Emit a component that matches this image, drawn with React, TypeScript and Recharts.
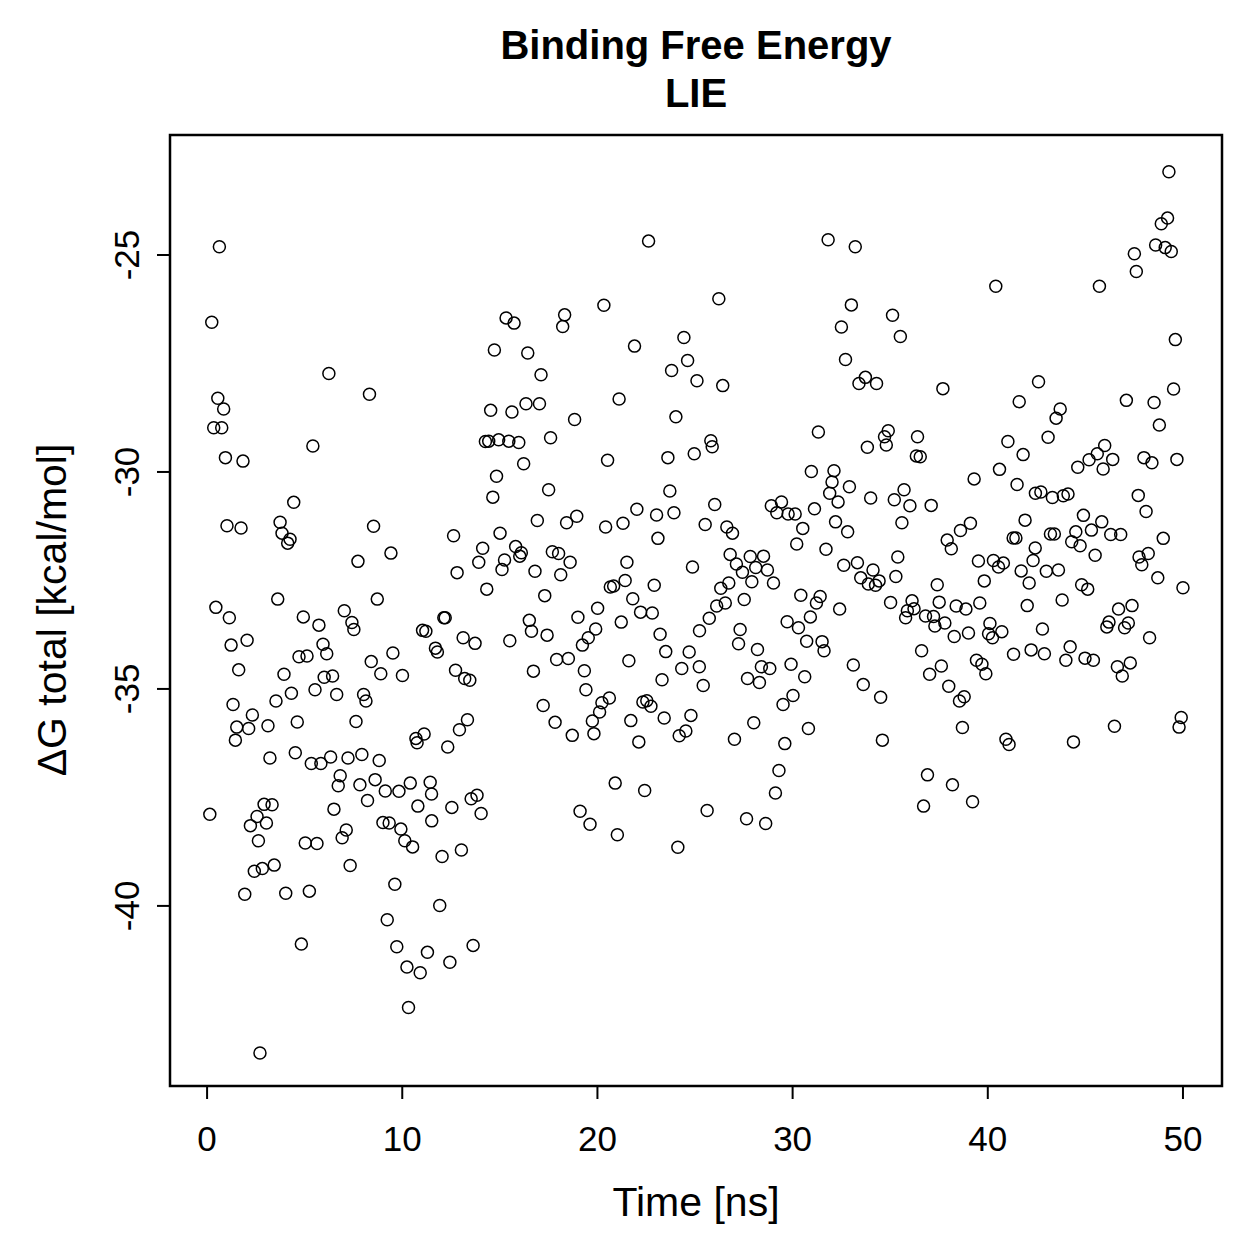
import React from "react";
import { ScatterChart, Scatter, XAxis, YAxis, ReferenceArea } from "recharts";

// Time [ns] / ΔG total [kcal/mol] pairs, grouped by decade
const seg00to10: [number, number][] = [
  [0.14, -37.89], [0.24, -26.55], [0.34, -28.98], [0.45, -33.12], [0.55, -28.3], [0.63, -24.81], [0.75, -28.98], [0.85, -28.55], [0.94, -29.67],
  [1.02, -31.24], [1.14, -33.36], [1.23, -33.99], [1.33, -35.36], [1.45, -36.18], [1.52, -35.88], [1.62, -34.56], [1.74, -31.29], [1.84, -29.75], [1.93, -39.73],
  [2.05, -33.88], [2.13, -35.91], [2.22, -38.15], [2.32, -35.6], [2.42, -39.2], [2.56, -37.94], [2.63, -38.5], [2.71, -43.39], [2.83, -39.14], [2.92, -37.66],
  [3.04, -38.09], [3.12, -35.85], [3.22, -36.59], [3.33, -37.67], [3.44, -39.06], [3.53, -35.28], [3.62, -32.93], [3.74, -31.16], [3.84, -31.41], [3.94, -34.66],
  [4.03, -39.71], [4.13, -31.64], [4.25, -31.55], [4.32, -35.1], [4.44, -30.7], [4.52, -36.47], [4.62, -35.76], [4.71, -34.26], [4.83, -40.88], [4.93, -33.34],
  [5.03, -38.55], [5.12, -34.24], [5.24, -39.66], [5.34, -36.72], [5.42, -29.4], [5.53, -35.02], [5.63, -38.56], [5.73, -33.53], [5.83, -36.72], [5.94, -33.97],
  [6.0, -34.73], [6.13, -34.19], [6.24, -27.73], [6.33, -36.57], [6.43, -34.7], [6.5, -37.77], [6.64, -35.13], [6.72, -37.23], [6.82, -37.0], [6.92, -38.43],
  [7.03, -33.2], [7.13, -38.25], [7.22, -36.59], [7.33, -39.07], [7.42, -33.47], [7.52, -33.63], [7.63, -35.75], [7.73, -32.06], [7.83, -37.21], [7.93, -36.51],
  [8.02, -35.13], [8.14, -35.28], [8.22, -37.57], [8.32, -28.21], [8.41, -34.37], [8.53, -31.25], [8.61, -37.09], [8.72, -32.93], [8.82, -36.65], [8.9, -34.65],
  [9.01, -38.08], [9.13, -37.35], [9.23, -40.32], [9.33, -38.09], [9.42, -31.87], [9.52, -34.17], [9.62, -39.5], [9.72, -40.94], [9.83, -37.36], [9.93, -38.23],
];

const seg10to20: [number, number][] = [
  [10.01, -34.69], [10.13, -38.5], [10.24, -41.41], [10.32, -42.34], [10.41, -37.17], [10.53, -38.64], [10.7, -36.14], [10.76, -36.24], [10.8, -37.7], [10.92, -41.54],
  [11.04, -33.65], [11.12, -36.04], [11.21, -33.67], [11.29, -41.07], [11.43, -37.15], [11.5, -37.42], [11.51, -38.04], [11.7, -34.06], [11.8, -34.15], [11.92, -39.99],
  [12.04, -38.86], [12.13, -33.36], [12.2, -33.36], [12.33, -36.34], [12.44, -41.3], [12.54, -37.73], [12.63, -31.47], [12.73, -34.57], [12.81, -32.32], [12.93, -35.94],
  [13.03, -38.71], [13.12, -33.82], [13.2, -34.76], [13.34, -35.71], [13.46, -34.8], [13.53, -37.53], [13.63, -40.91], [13.73, -33.95], [13.83, -37.45], [13.92, -32.08],
  [14.04, -37.87], [14.12, -31.76], [14.26, -29.3], [14.33, -32.7], [14.43, -29.29], [14.53, -28.58], [14.64, -30.58], [14.72, -27.19], [14.83, -30.1], [14.94, -29.26],
  [15.01, -31.41], [15.11, -32.25], [15.24, -32.03], [15.32, -26.45], [15.46, -29.29], [15.51, -33.89], [15.62, -28.62], [15.73, -26.57], [15.81, -31.72], [15.97, -29.32],
  [16.02, -31.94], [16.1, -31.86], [16.22, -29.81], [16.34, -28.43], [16.43, -27.26], [16.51, -33.42], [16.62, -33.67], [16.72, -34.59], [16.8, -32.29], [16.92, -31.12],
  [17.03, -28.43], [17.11, -27.76], [17.22, -35.38], [17.3, -32.85], [17.42, -33.76], [17.5, -30.41], [17.6, -29.21], [17.69, -31.84], [17.83, -35.77], [17.91, -34.32],
  [18.01, -31.88], [18.12, -32.37], [18.22, -26.65], [18.32, -26.38], [18.42, -31.17], [18.51, -34.3], [18.6, -32.08], [18.71, -36.07], [18.83, -28.79], [18.94, -31.02],
  [19.0, -33.35], [19.11, -37.82], [19.23, -33.99], [19.33, -34.58], [19.41, -35.02], [19.53, -33.82], [19.62, -38.12], [19.74, -35.74], [19.82, -36.03], [19.91, -33.62],
];

const seg20to30: [number, number][] = [
  [20.01, -33.14], [20.11, -35.53], [20.23, -35.32], [20.33, -26.16], [20.42, -31.27], [20.52, -29.73], [20.61, -35.21], [20.66, -32.65], [20.83, -32.63], [20.91, -37.17],
  [21.02, -38.36], [21.11, -28.32], [21.22, -33.46], [21.31, -31.18], [21.42, -32.5], [21.51, -32.08], [21.61, -34.35], [21.71, -35.73], [21.81, -32.92], [21.9, -27.1],
  [22.02, -30.86], [22.12, -36.22], [22.21, -33.23], [22.33, -35.3], [22.42, -37.34], [22.53, -35.27], [22.62, -24.68], [22.74, -35.4], [22.81, -33.25], [22.91, -32.61],
  [23.03, -30.99], [23.1, -31.53], [23.21, -33.74], [23.31, -34.79], [23.42, -35.67], [23.5, -34.14], [23.61, -29.67], [23.71, -30.44], [23.8, -27.66], [23.92, -30.94],
  [24.02, -28.73], [24.12, -38.65], [24.19, -36.08], [24.32, -34.53], [24.43, -26.9], [24.53, -35.97], [24.62, -27.43], [24.7, -34.15], [24.79, -35.61], [24.87, -32.19],
  [24.96, -29.58], [25.1, -27.9], [25.22, -34.49], [25.23, -33.66], [25.42, -34.92], [25.52, -31.21], [25.62, -37.8], [25.73, -33.37], [25.81, -29.28], [25.88, -29.42],
  [26.01, -30.75], [26.11, -33.09], [26.22, -26.01], [26.32, -32.68], [26.42, -28.01], [26.55, -33.02], [26.63, -31.27], [26.73, -32.56], [26.8, -31.9], [26.92, -31.41],
  [27.02, -36.16], [27.12, -32.12], [27.23, -33.96], [27.31, -33.63], [27.43, -32.31], [27.52, -32.94], [27.64, -37.99], [27.69, -34.76], [27.83, -31.95], [27.91, -32.53],
  [28.01, -35.78], [28.11, -32.2], [28.2, -34.09], [28.3, -34.85], [28.4, -34.49], [28.51, -31.94], [28.62, -38.1], [28.71, -32.26], [28.83, -34.53], [28.91, -30.78],
  [29.02, -32.56], [29.12, -37.4], [29.19, -30.94], [29.3, -36.88], [29.43, -30.69], [29.51, -35.36], [29.6, -36.26], [29.72, -33.45], [29.77, -30.97], [29.92, -34.43],
];

const seg30to40: [number, number][] = [
  [30.02, -35.15], [30.13, -30.97], [30.21, -31.66], [30.3, -33.59], [30.42, -32.84], [30.52, -31.3], [30.62, -34.72], [30.72, -33.9], [30.81, -35.91], [30.91, -33.34],
  [30.96, -29.99], [31.12, -30.85], [31.22, -33.02], [31.32, -29.08], [31.41, -32.87], [31.51, -33.91], [31.61, -34.12], [31.71, -31.78], [31.82, -24.65], [31.9, -30.49],
  [32.02, -30.23], [32.12, -29.97], [32.2, -31.15], [32.33, -30.69], [32.41, -33.16], [32.5, -26.66], [32.62, -32.15], [32.71, -27.41], [32.82, -31.38], [32.91, -30.34],
  [33.01, -26.15], [33.11, -34.45], [33.21, -24.81], [33.32, -32.09], [33.4, -27.96], [33.49, -32.44], [33.62, -34.9], [33.73, -27.82], [33.83, -29.43], [33.88, -32.58],
  [34.0, -30.6], [34.12, -32.26], [34.25, -32.61], [34.3, -27.96], [34.43, -32.51], [34.51, -35.19], [34.6, -36.18], [34.71, -29.19], [34.8, -29.38], [34.9, -29.05],
  [35.02, -33.01], [35.12, -26.39], [35.21, -30.64], [35.29, -32.41], [35.39, -31.96], [35.52, -26.88], [35.6, -31.17], [35.71, -30.41], [35.79, -33.36], [35.88, -33.2],
  [36.01, -30.78], [36.12, -32.97], [36.22, -33.15], [36.34, -29.63], [36.4, -29.19], [36.54, -29.65], [36.61, -34.12], [36.71, -37.7], [36.81, -33.32], [36.91, -36.98],
  [37.02, -34.66], [37.1, -30.77], [37.22, -33.33], [37.29, -33.55], [37.41, -32.6], [37.51, -33.0], [37.62, -34.47], [37.7, -28.08], [37.8, -33.48], [37.92, -31.57],
  [38.0, -34.94], [38.13, -31.77], [38.19, -37.21], [38.28, -33.79], [38.38, -33.09], [38.55, -35.28], [38.6, -31.35], [38.7, -35.89], [38.79, -35.18], [38.88, -33.16],
  [39.01, -33.71], [39.11, -31.18], [39.22, -37.6], [39.3, -30.16], [39.42, -34.34], [39.52, -32.05], [39.59, -33.02], [39.7, -34.43], [39.82, -32.51], [39.9, -34.65],
];

const seg40to50: [number, number][] = [
  [40.04, -33.73], [40.11, -33.49], [40.24, -33.82], [40.29, -32.04], [40.41, -25.72], [40.55, -32.19], [40.6, -29.94], [40.72, -33.68], [40.8, -32.1], [40.93, -36.16],
  [41.03, -29.3], [41.09, -36.28], [41.3, -31.52], [41.32, -34.2], [41.44, -31.52], [41.5, -30.29], [41.61, -28.38], [41.71, -32.28], [41.81, -29.6], [41.91, -31.11],
  [42.02, -33.08], [42.12, -32.56], [42.22, -34.1], [42.32, -32.04], [42.43, -31.75], [42.44, -30.49], [42.6, -27.92], [42.72, -30.46], [42.8, -33.62], [42.9, -34.19],
  [43.0, -32.29], [43.09, -29.2], [43.21, -31.43], [43.31, -30.59], [43.41, -31.43], [43.5, -28.76], [43.62, -32.26], [43.71, -28.55], [43.81, -32.95], [43.87, -30.55],
  [44.0, -34.34], [44.11, -30.51], [44.22, -34.03], [44.3, -31.61], [44.39, -36.22], [44.51, -31.38], [44.61, -29.89], [44.73, -31.7], [44.81, -32.6], [44.9, -31.0],
  [44.98, -34.29], [45.12, -32.7], [45.19, -29.72], [45.31, -31.34], [45.41, -34.34], [45.5, -31.92], [45.61, -29.58], [45.72, -25.72], [45.84, -31.15], [45.91, -29.93],
  [45.99, -29.39], [46.1, -33.57], [46.21, -33.46], [46.3, -31.44], [46.4, -29.71], [46.49, -35.86], [46.64, -34.49], [46.7, -33.16], [46.81, -31.44], [46.89, -34.7],
  [47.01, -33.59], [47.1, -28.35], [47.2, -33.48], [47.3, -34.4], [47.39, -33.08], [47.51, -24.97], [47.61, -25.38], [47.71, -30.54], [47.75, -31.96], [47.89, -32.14],
  [48.0, -29.67], [48.11, -30.91], [48.22, -31.88], [48.29, -33.82], [48.41, -29.79], [48.52, -28.4], [48.6, -24.77], [48.71, -32.44], [48.79, -28.92], [48.89, -24.28],
  [48.99, -31.53], [49.09, -24.83], [49.21, -24.15], [49.28, -23.08], [49.4, -24.92], [49.52, -28.09], [49.61, -26.95], [49.69, -29.71], [49.8, -35.88], [49.91, -35.66],
  [50.0, -32.67],
];

const xTicks = [0, 10, 20, 30, 40, 50];
const yTicks = [-40, -35, -30, -25];
const xDomain: [number, number] = [-1.9, 52.0];
const yDomain: [number, number] = [-44.15, -22.235];

const titleLines = ["Binding Free Energy", "LIE"];
const xLabel = "Time [ns]";
const yLabel = "ΔG total [kcal/mol]";

const data = [...seg00to10, ...seg10to20, ...seg20to30, ...seg30to40, ...seg40to50].map(([t, g]) => ({ t, g }));

const FONT = "'Liberation Sans', Arial, Helvetica, sans-serif";

const OpenCircle = (props: any) => {
  const { cx, cy } = props;
  if (cx == null || cy == null) return null;
  return <circle cx={cx} cy={cy} r={6} fill="none" stroke="#000" strokeWidth={1.5} />;
};

const XTick = (props: any) => {
  const { x, payload } = props;
  return (
    <text x={x} y={1151} textAnchor="middle" fontSize={35} fontFamily={FONT} fill="#000">
      {payload.value}
    </text>
  );
};

const YTick = (props: any) => {
  const { y, payload } = props;
  const bx = 139;
  return (
    <text x={bx} y={y} textAnchor="middle" fontSize={35} fontFamily={FONT} fill="#000" transform={`rotate(-90, ${bx}, ${y})`}>
      {payload.value}
    </text>
  );
};

export default function App() {
  return (
    <div style={{ position: "absolute", left: 0, top: 0, width: 1259, height: 1259, background: "#fff" }}>
      <ScatterChart width={1259} height={1259} margin={{ top: 135, right: 37, left: 90, bottom: 113 }}>
        <XAxis
          type="number"
          dataKey="t"
          domain={xDomain}
          ticks={xTicks}
          allowDataOverflow
          axisLine={false}
          tickSize={13}
          tickLine={{ stroke: "#000", strokeWidth: 2 }}
          tick={<XTick />}
          height={60}
        />
        <YAxis
          type="number"
          dataKey="g"
          domain={yDomain}
          ticks={yTicks}
          allowDataOverflow
          axisLine={false}
          tickSize={13}
          tickLine={{ stroke: "#000", strokeWidth: 2 }}
          tick={<YTick />}
          width={80}
        />
        <ReferenceArea x1={xDomain[0]} x2={xDomain[1]} y1={yDomain[0]} y2={yDomain[1]} fill="none" stroke="#000" strokeWidth={2.5} fillOpacity={0} />
        <Scatter data={data} shape={<OpenCircle />} isAnimationActive={false} />
      </ScatterChart>
      <svg width={1259} height={1259} style={{ position: "absolute", left: 0, top: 0, pointerEvents: "none" }}>
        <text x={696} y={59} textAnchor="middle" fontSize={40} fontWeight="bold" fontFamily={FONT} fill="#000">
          {titleLines[0]}
        </text>
        <text x={696} y={107} textAnchor="middle" fontSize={40} fontWeight="bold" fontFamily={FONT} fill="#000">
          {titleLines[1]}
        </text>
        <text x={696} y={1216} textAnchor="middle" fontSize={41} fontFamily={FONT} fill="#000">
          {xLabel}
        </text>
        <text x={66} y={610} textAnchor="middle" fontSize={41} fontFamily={FONT} fill="#000" transform="rotate(-90, 66, 610)">
          {yLabel}
        </text>
      </svg>
    </div>
  );
}
